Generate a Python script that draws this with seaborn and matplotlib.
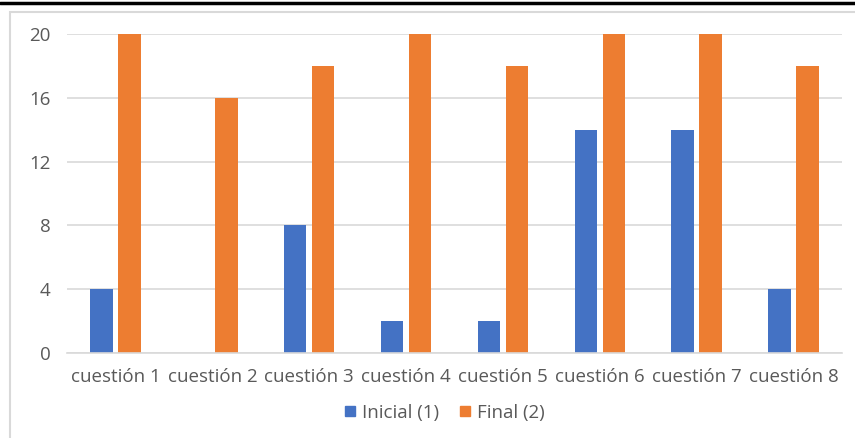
import matplotlib
matplotlib.use("Agg")
import matplotlib.pyplot as plt
from matplotlib.patches import Rectangle
from matplotlib.lines import Line2D
import seaborn as sns
import pandas as pd

categories = ["cuestión 1", "cuestión 2", "cuestión 3", "cuestión 4",
              "cuestión 5", "cuestión 6", "cuestión 7", "cuestión 8"]
inicial = [4, 0, 8, 2, 2, 14, 14, 4]
final = [20, 16, 18, 20, 18, 20, 20, 18]
series_names = ["Inicial (1)", "Final (2)"]
y_ticks = [0, 4, 8, 12, 16, 20]

df = pd.DataFrame({
    "cuestion": categories * 2,
    "serie": [series_names[0]] * len(categories) + [series_names[1]] * len(categories),
    "valor": inicial + final,
})

sns.set_theme(style="white")
plt.rcParams["font.family"] = ["Open Sans", "DejaVu Sans"]

text_color = "#595959"
grid_color = "#D9D9D9"
palette = {series_names[0]: "#4472C4", series_names[1]: "#ED7D31"}

fig = plt.figure(figsize=(8.55, 4.38), dpi=100)
ax = fig.add_axes([67 / 855, 1 - 353 / 438, (842 - 67) / 855, (353 - 34) / 438])

sns.barplot(data=df, x="cuestion", y="valor", hue="serie", palette=palette,
            width=0.58, gap=0.2, linewidth=0, saturation=1, ax=ax, legend=False)

ax.set_xlim(-0.5, len(categories) - 0.5)
ax.set_ylim(0, 20)
ax.set_yticks(y_ticks)
ax.set_xlabel("")
ax.set_ylabel("")
for s in ["top", "right", "left"]:
    ax.spines[s].set_visible(False)
ax.spines["bottom"].set_color(grid_color)
ax.spines["bottom"].set_linewidth(1.2)
ax.yaxis.grid(True, color=grid_color, linewidth=1.2)
ax.set_axisbelow(True)
ax.tick_params(axis="both", length=0, colors=text_color, labelsize=13.5)
ax.tick_params(axis="y", pad=12)
ax.tick_params(axis="x", pad=11)

# legend below the axis
handles = [Line2D([0], [0], marker="s", linestyle="", markersize=7,
                  markerfacecolor=palette[n], markeredgecolor=palette[n])
           for n in series_names]
fig.legend(handles, series_names, loc="center", bbox_to_anchor=(444 / 855, 1 - 413 / 438),
           ncol=2, frameon=False, fontsize=13.5, labelcolor=text_color,
           handlelength=0.7, handletextpad=0.3, columnspacing=1.0)

# chart frame and top rule
fig.add_artist(Rectangle((10 / 855, -0.1), 1.0, 1 - 12 / 438 + 0.1,
                         transform=fig.transFigure, fill=False,
                         edgecolor=grid_color, linewidth=1.5))
fig.add_artist(Line2D([0, 1], [1 - 3 / 438, 1 - 3 / 438], transform=fig.transFigure,
                      color="black", linewidth=2.5))

fig.savefig("out.png", dpi=100)
